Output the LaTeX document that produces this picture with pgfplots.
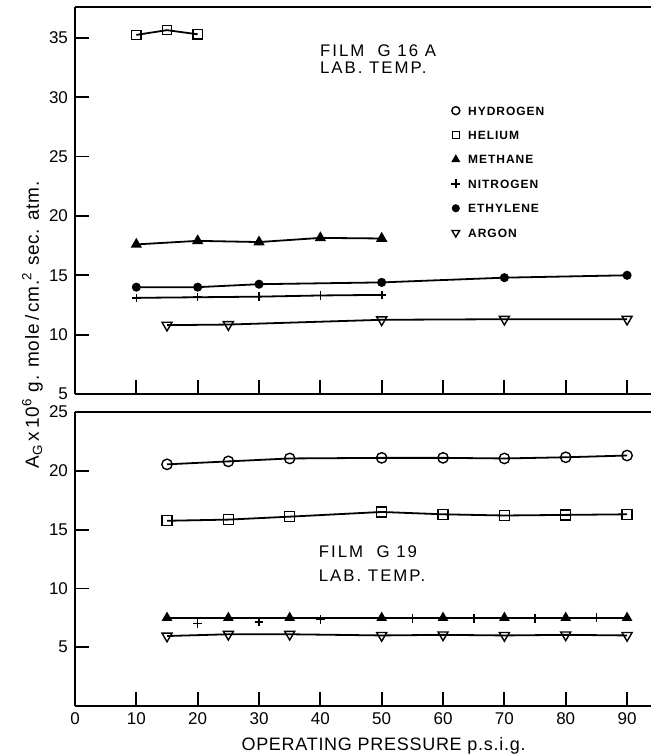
\documentclass[border=0pt]{standalone}
\usepackage{fontspec}
\setmainfont{Liberation Sans}
\usepackage{pgfplots}
\pgfplotsset{compat=1.18}

\pgfplotsset{
  panel/.style={
    scale only axis, width=288pt,
    xmin=0, xmax=93.9, enlargelimits=false,
    axis x line*=box, axis y line*=left,
    axis line style={-, line width=1pt},
    x axis line style={-}, y axis line style={-},
    tick align=inside, tick pos=left, major tick length=7pt,
    tick style={line width=0.9pt, black},
    xtick={0,10,...,90},
    /pgf/number format/assume math mode=true,
    tick label style={font=\fontsize{8.5}{10}\selectfont},
    clip=false,
  },
  gas/.style={black, line width=0.9pt},
}
\newcommand{\tag}[1]{{\fontsize{8.4}{10}\selectfont\addfontfeature{LetterSpace=12}#1}}

\begin{document}
\begin{tikzpicture}
\useasboundingbox (-37.5pt,-180.5pt) rectangle (288pt,197pt);

% film G16A
\begin{axis}[panel, height=193.5pt, ymin=5, ymax=37.6,
  ytick={5,10,...,35}, xticklabels=\empty,
  legend image code/.code={\draw[#1, only marks] plot coordinates {(0pt,0pt)};},
  legend cell align=left,
  legend style={at={(axis cs:61.3,29.45)}, anchor=north west, draw=none, fill=none,
    inner sep=0pt, row sep=5.7pt, column sep=3pt,
    font=\fontsize{6}{7}\bfseries\addfontfeature{LetterSpace=8},
    nodes={inner sep=1pt, text height=4.5pt, text depth=0pt}},
  ]
\addlegendimage{black, mark=o, mark size=2pt, mark options={line width=0.7pt}}
\addlegendentry{HYDROGEN}
\addlegendimage{black, mark=square, mark size=1.8pt, mark options={line width=0.7pt}}
\addlegendentry{HELIUM}
\addlegendimage{black, mark=triangle*, mark size=2.2pt}
\addlegendentry{METHANE}
\addlegendimage{black, mark=+, mark size=2.2pt, mark options={line width=0.7pt}}
\addlegendentry{NITROGEN}
\addlegendimage{black, mark=*, mark size=1.8pt}
\addlegendentry{ETHYLENE}
\addlegendimage{black, mark=triangle, mark size=2.2pt, mark options={line width=0.7pt, rotate=180}}
\addlegendentry{ARGON}

\addplot[gas, forget plot, mark=square, mark size=2.3pt, mark options={line width=0.7pt, fill=white}]
  coordinates {(10,35.25) (15,35.65) (20,35.3)};
\addplot[gas, forget plot, mark=triangle*, mark size=2.4pt]
  coordinates {(10,17.6) (20,17.9) (30,17.8) (40,18.15) (50,18.1)};
\addplot[gas, forget plot, mark=*, mark size=1.8pt]
  coordinates {(10,14.0) (20,14.0) (30,14.25) (50,14.4) (70,14.8) (90,15.0)};
\addplot[gas, forget plot, mark=+, mark size=2.1pt, mark options={line width=0.8pt}]
  coordinates {(10,13.1) (20,13.15) (30,13.2) (40,13.3) (50,13.35)};
\addplot[gas, forget plot, mark=triangle, mark size=2.9pt, mark options={line width=0.7pt, fill=white, rotate=180}]
  coordinates {(15,10.8) (25,10.85) (50,11.25) (70,11.3) (90,11.3)};

\node[anchor=base west] at (axis cs:38.8,33.4) {\tag{FILM\ \ G 16 A}};
\node[anchor=base west] at (axis cs:38.8,32.0) {\tag{LAB. TEMP.}};
\end{axis}

% film G19
\begin{axis}[panel, at={(0pt,-9pt)}, anchor=north west, height=147pt,
  ymin=0, ymax=25, ytick={5,10,...,25}]
\addplot[gas, mark=o, mark size=2.6pt, mark options={line width=0.7pt, fill=white}]
  coordinates {(15,20.55) (25,20.8) (35,21.05) (50,21.1) (60,21.1) (70,21.05) (80,21.15) (90,21.3)};
\addplot[gas, mark=square, mark size=2.5pt, mark options={line width=0.7pt, fill=white}]
  coordinates {(15,15.75) (25,15.85) (35,16.1) (50,16.5) (60,16.3) (70,16.2) (80,16.25) (90,16.3)};
\addplot[gas, mark=triangle*, mark size=2.2pt]
  coordinates {(15,7.5) (25,7.5) (35,7.5) (50,7.5) (60,7.5) (70,7.5) (80,7.5) (90,7.5)};
\addplot[gas, only marks, mark=+, mark size=2.2pt, mark options={line width=0.8pt}]
  coordinates {(20,7.0) (30,7.15) (40,7.35) (55,7.45) (65,7.45) (75,7.45) (85,7.5)};
\addplot[gas, mark=triangle, mark size=2.9pt, mark options={line width=0.7pt, fill=white, rotate=180}]
  coordinates {(15,5.95) (25,6.1) (35,6.1) (50,6.0) (60,6.05) (70,6.0) (80,6.05) (90,6.0)};

\node[anchor=base west] at (axis cs:38.6,12.6) {\tag{FILM\ \ G 19}};
\node[anchor=base west] at (axis cs:38.6,10.55) {\tag{LAB. TEMP.}};
\node[anchor=base, yshift=-22pt] at (axis cs:50.3,0)
  {\fontsize{9}{11}\selectfont\addfontfeature{LetterSpace=4}OPERATING PRESSURE p.s.i.g.};
\end{axis}

\node[rotate=90, anchor=base, inner sep=0pt] at (-18pt,34.5pt)
  {\fontsize{9.5}{11}\selectfont\addfontfeature{LetterSpace=4}A\textsubscript{G}\,x\,10\textsuperscript{6} g. mole\,/\,cm.\textsuperscript{2} sec. atm.};
\end{tikzpicture}
\end{document}
